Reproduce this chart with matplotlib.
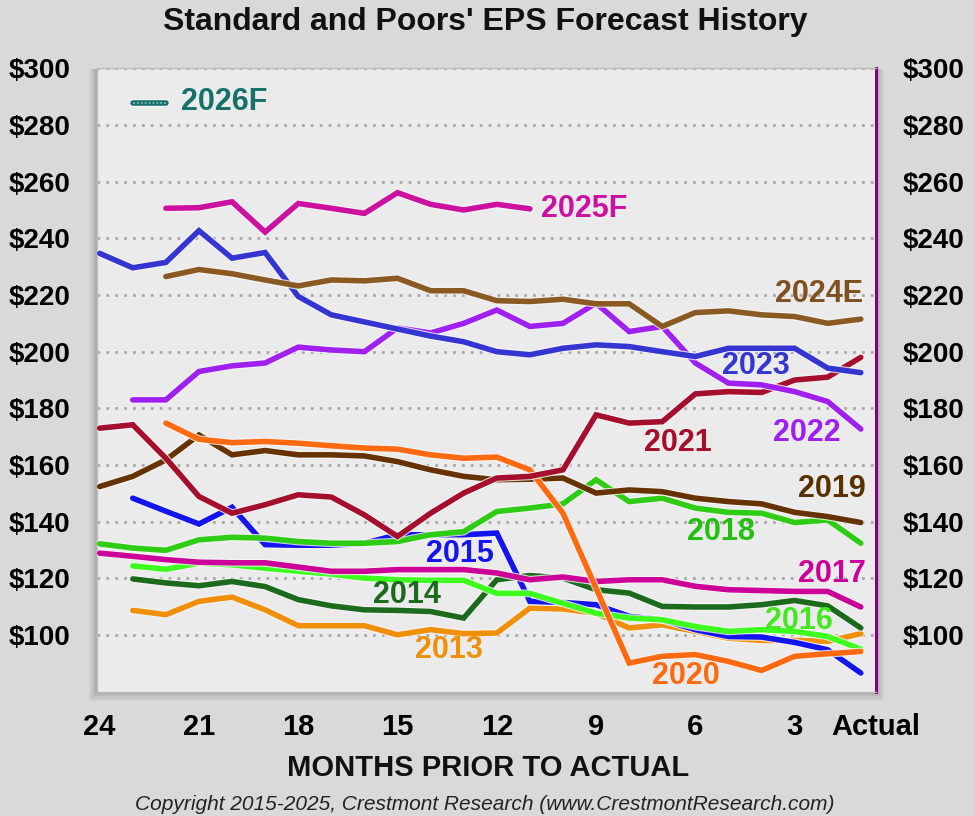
import matplotlib
matplotlib.use("Agg")
import matplotlib.pyplot as plt
import matplotlib.patheffects as pe
from matplotlib.patches import Rectangle
import numpy as np

plt.rcParams['font.family'] = ['Liberation Sans', 'DejaVu Sans']

# ---------------- data ----------------
# x positions: index 0 = 24 months prior ... index 23 = Actual
x_tick_labels = ["24", "21", "18", "15", "12", "9", "6", "3", "Actual"]
y_tick_values = [100, 120, 140, 160, 180, 200, 220, 240, 260, 280, 300]

s2013 = [108.7, 107.2, 111.9, 113.4, 108.9, 103.3, 103.3, 103.3, 100.1, 101.9, 100.5,
         100.7, 109.5, 109.2, 107.7, 102.5, 103.6, 101.3, 98.9, 98.1, 98.1, 97.8, 100.5]
s2014 = [119.8, 118.4, 117.4, 118.9, 117.1, 112.5, 110.3, 108.9, 108.7, 108.3, 106.0,
         119.5, 121.0, 120.1, 116.0, 114.8, 110.1, 109.9, 109.9, 110.7, 112.2, 110.3, 102.5]
s2015 = [148.3, 143.7, 139.2, 145.1, 131.9, 131.7, 131.7, 132.4, 135.4, 135.4, 135.4,
         136.0, 111.9, 111.5, 110.7, 106.6, 105.4, 101.9, 99.5, 99.3, 97.4, 94.8, 86.6]
s2016 = [124.4, 123.2, 125.4, 124.8, 123.6, 122.5, 121.5, 120.1, 119.5, 119.3, 119.3,
         114.7, 114.7, 111.2, 107.7, 106.0, 105.4, 103.0, 101.3, 101.9, 101.3, 99.5, 95.0]
s2017 = [128.9, 127.8, 126.6, 125.7, 125.5, 125.5, 124.0, 122.5, 122.5, 123.1, 123.1, 123.1,
         121.9, 119.5, 120.5, 118.9, 119.5, 119.5, 117.2, 116.0, 115.7, 115.4, 115.4, 109.9]
s2018 = [132.2, 130.7, 129.9, 133.6, 134.5, 134.2, 133.0, 132.4, 132.4, 133.0, 135.4, 136.5,
         143.6, 144.8, 146.3, 154.8, 147.1, 148.3, 144.8, 143.3, 143.0, 139.7, 140.6, 132.4]
s2019 = [152.4, 156.0, 161.8, 170.6, 163.6, 165.1, 163.6, 163.6, 163.2, 161.2, 158.3, 156.0,
         154.8, 155.0, 155.4, 150.1, 151.2, 150.6, 148.3, 147.1, 146.3, 143.3, 141.8, 139.7]
s2020 = [174.8, 169.1, 167.9, 168.3, 167.7, 166.8, 166.0, 165.6, 163.6, 162.4, 162.8,
         158.3, 143.0, 116.5, 90.1, 92.5, 93.1, 90.7, 87.5, 92.5, 93.4, 94.2]
s2021 = [173.0, 174.2, 162.4, 148.9, 143.0, 146.0, 149.5, 148.7, 142.4, 134.8, 143.0, 150.1,
         155.4, 156.0, 158.3, 177.7, 174.8, 175.3, 185.1, 185.9, 185.6, 190.0, 191.0, 198.0]
s2022 = [183.0, 183.0, 193.0, 195.0, 196.0, 201.6, 200.6, 200.0, 208.4, 206.6, 210.0,
         214.7, 208.9, 210.0, 217.1, 207.1, 208.9, 196.0, 188.9, 188.3, 185.9, 182.4, 172.7]
s2023 = [234.7, 229.6, 231.5, 242.7, 233.0, 235.0, 219.5, 213.0, 210.5, 208.0, 205.5, 203.5,
         200.0, 198.9, 201.2, 202.4, 201.8, 200.0, 198.3, 201.2, 201.2, 201.2, 194.2, 192.6]
s2024 = [226.5, 229.0, 227.5, 225.3, 223.2, 225.3, 225.0, 225.9, 221.5, 221.5, 218.0,
         217.7, 218.5, 216.9, 216.9, 208.9, 213.8, 214.4, 213.0, 212.4, 210.0, 211.5]
s2025 = [250.6, 250.8, 252.9, 242.2, 252.3, 250.6, 248.8, 256.1, 252.0, 250.0, 252.0, 250.4]
s2026 = [287.6, 287.6]

# (name, values, first index, colour)
series = [
    ("2013", s2013, 1, "#f0900a"),
    ("2014", s2014, 1, "#1c6a1c"),
    ("2015", s2015, 1, "#1414ee"),
    ("2016", s2016, 1, "#3cff1e"),
    ("2017", s2017, 0, "#cc0099"),
    ("2018", s2018, 0, "#2ecc14"),
    ("2019", s2019, 0, "#663300"),
    ("2020", s2020, 2, "#ff6a10"),
    ("2021", s2021, 0, "#a50e2d"),
    ("2022", s2022, 1, "#a020f0"),
    ("2023", s2023, 0, "#3535d2"),
    ("2024E", s2024, 2, "#8b5a22"),
    ("2025F", s2025, 2, "#cc10a0"),
    ("2026F", s2026, 1, "#17706a"),
]

# label placement (x index, y value)
label_pos = {
    "2013": (9.53, 94.8), "2014": (8.26, 114.3), "2015": (9.85, 128.6),
    "2016": (20.1, 105.1), "2017": (21.1, 121.6), "2018": (17.75, 136.2),
    "2019": (21.1, 151.4), "2020": (16.7, 85.5), "2021": (16.45, 167.8),
    "2022": (20.35, 171.3), "2023": (18.8, 195.0), "2024E": (20.4, 220.3),
    "2025F": (13.35, 250.4), "2026F": (2.45, 288.0),
}
label_col = {"2026F": "#17706a", "2024E": "#7d5122", "2019": "#5a3000",
             "2016": "#44e820", "2018": "#22c010"}

# ---------------- figure ----------------
fig = plt.figure(figsize=(9.75, 8.16), dpi=100, facecolor="#d9d9d9")
ax_l, ax_b, ax_w, ax_h = 0.0995, 0.1523, 0.799, 0.764

# drop shadow (behind the plot area)
bg = fig.add_axes([0, 0, 1, 1], zorder=-5)
bg.set_xlim(0, 1)
bg.set_ylim(0, 1)
bg.axis("off")
for k, a in enumerate([0.04, 0.05, 0.06, 0.08]):
    off = (4 - k) * 0.0028
    bg.add_patch(Rectangle((ax_l - off * 0.7, ax_b - off), ax_w + off * 1.4, ax_h + off * 0.9,
                           facecolor="#000000", alpha=a, edgecolor="none"))

ax = fig.add_axes([ax_l, ax_b, ax_w, ax_h], zorder=1)
ax.set_facecolor("#ebebeb")
ax.set_xlim(-0.08, 23.46)
ax.set_ylim(80, 300)

glow = [pe.Stroke(linewidth=5.6, foreground="#f7f7f7", alpha=0.8), pe.Normal()]
for name, vals, start, col in series:
    xs = np.arange(start, start + len(vals))
    ax.plot(xs, vals, color=col, linewidth=4.0, solid_capstyle="round",
            solid_joinstyle="miter", path_effects=glow, zorder=3)
    if name == "2026F":
        ax.plot(xs, vals, color="#6fb2a8", linewidth=1.4, linestyle=(0, (1, 1)), zorder=4)
    lx, ly = label_pos[name]
    ax.text(lx, ly, name, color=label_col.get(name, col), fontsize=22, fontweight="bold",
            ha="left", va="center", zorder=5)

# grid
ax.set_yticks(y_tick_values)
ax.yaxis.grid(True, linestyle=(0, (1, 2.2)), color="#a8a8a8", linewidth=2.0)
ax.set_axisbelow(True)

ax.set_xticks([0, 3, 6, 9, 12, 15, 18, 21, 23.45])
ax.set_xticklabels(x_tick_labels)
ax.set_yticklabels([f"${v}" for v in y_tick_values])
ax.tick_params(axis="x", length=0, pad=15, labelsize=21)
ax.tick_params(axis="y", length=0, pad=19, labelsize=20)
for t in ax.get_xticklabels() + ax.get_yticklabels():
    t.set_fontweight("bold")

for s in ["left", "top", "bottom"]:
    ax.spines[s].set_color("#bdbdbd")
    ax.spines[s].set_linewidth(1.0)
ax.spines["right"].set_color("#800080")
ax.spines["right"].set_linewidth(2.2)

ax2 = ax.twinx()
ax2.set_zorder(2)
ax2.set_ylim(80, 300)
ax2.set_yticks(y_tick_values)
ax2.set_yticklabels([f"${v}" for v in y_tick_values])
ax2.tick_params(axis="y", length=0, pad=19, labelsize=20)
for t in ax2.get_yticklabels():
    t.set_fontweight("bold")
for s in ax2.spines.values():
    s.set_visible(False)

fig.text(0.4976, 0.973, "Standard and Poors' EPS Forecast History", ha="center", va="center",
         fontsize=23, fontweight="bold", color="#111111")
fig.text(0.5005, 0.0588, "MONTHS PRIOR TO ACTUAL", ha="center", va="center",
         fontsize=21, fontweight="bold", color="#111111")
fig.text(0.497, 0.0147, "Copyright 2015-2025, Crestmont Research (www.CrestmontResearch.com)",
         ha="center", va="center", fontsize=15, fontstyle="italic", color="#222222")

fig.savefig("out.png", dpi=100, facecolor=fig.get_facecolor())
